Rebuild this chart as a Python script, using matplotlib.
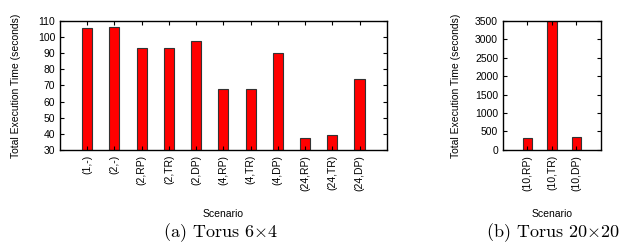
import numpy as np
import matplotlib
matplotlib.use('Agg')
from matplotlib import pyplot as plt

# data
labels_a = ['(1,-)', '(2,-)', '(2,RP)', '(2,TR)', '(2,DP)', '(4,RP)', '(4,TR)',
            '(4,DP)', '(24,RP)', '(24,TR)', '(24,DP)']
times_a = [105.5, 106, 93, 93.5, 97.5, 68, 67.5, 90, 37.5, 39.5, 74]
labels_b = ['(10,RP)', '(10,TR)', '(10,DP)']
times_b = [330, 3600, 350]

plt.rcParams['font.family'] = ['Liberation Sans', 'DejaVu Sans']
plt.rcParams['mathtext.fontset'] = 'cm'

fig = plt.figure(figsize=(6.26, 2.49), dpi=100)
ax1 = fig.add_axes([0.0958, 0.398, 0.522, 0.518])
ax2 = fig.add_axes([0.8035, 0.398, 0.1565, 0.518])

def style(ax, pad):
    ax.tick_params(direction='in', top=True, right=True, labelsize=7.5,
                   length=3, width=0.8)
    ax.tick_params(axis='x', labelrotation=90)
    for s in ax.spines.values():
        s.set_linewidth(1.0)
    ax.set_ylabel('Total Execution Time (seconds)', fontsize=7.5, labelpad=pad)
    ax.set_xlabel('Scenario', fontsize=7.5, labelpad=13)

x1 = np.arange(1, len(times_a) + 1)
ax1.bar(x1, times_a, width=0.37, color='#ff0000', edgecolor='#333333', linewidth=0.8)
ax1.set_xlim(0, 12)
ax1.set_ylim(30, 110)
ax1.set_yticks(np.arange(30, 111, 10))
ax1.set_xticks(x1)
ax1.set_xticklabels(labels_a)
style(ax1, 12)

x2 = np.arange(1, len(times_b) + 1)
ax2.bar(x2, times_b, width=0.38, color='#ff0000', edgecolor='#333333', linewidth=0.8)
ax2.set_xlim(0, 4)
ax2.set_ylim(0, 3500)
ax2.set_yticks(np.arange(0, 3501, 500))
ax2.set_xticks(x2)
ax2.set_xticklabels(labels_b)
style(ax2, 10)

cap = ['cmr10', 'DejaVu Serif']
fig.text(0.352, 0.066, r'(a) Torus 6$\times$4', ha='center', va='center', fontsize=13, family=cap)
fig.text(0.883, 0.066, r'(b) Torus 20$\times$20', ha='center', va='center', fontsize=13, family=cap)

fig.savefig('out.png', dpi=100)
